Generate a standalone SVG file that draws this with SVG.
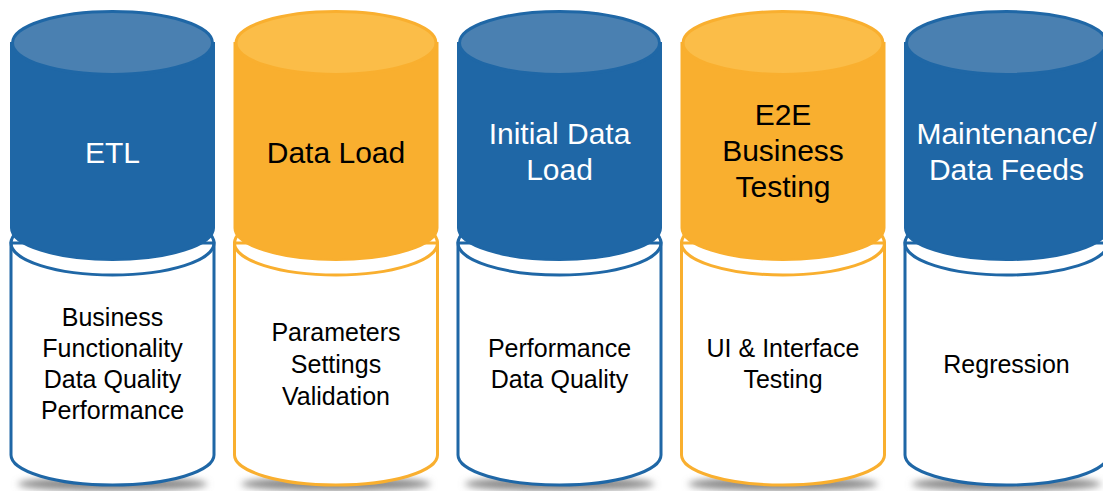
<svg xmlns="http://www.w3.org/2000/svg" width="1103" height="491" viewBox="0 0 1103 491">
<defs>
<filter id="blur" x="-20%" y="-100%" width="140%" height="300%"><feGaussianBlur stdDeviation="3.5"/></filter>
<style>
.shadow{fill:#8a8a8a;filter:url(#blur)}
.low{fill:#fff;stroke-width:3}
.lowtop{fill:none;stroke-width:3}
.b .low,.b .lowtop{stroke:#1F67A6}
.o .low,.o .lowtop{stroke:#F9AF2F}
.b .body{fill:#1F67A6;stroke:#1F67A6;stroke-width:2}
.o .body{fill:#F9AF2F;stroke:#F9AF2F;stroke-width:2}
.b .top{fill:#4A80B1;stroke:#1F67A6;stroke-width:3}
.o .top{fill:#FBBD48;stroke:#F9AF2F;stroke-width:3}
.title{font-family:"Liberation Sans",Arial,sans-serif;font-size:30px;text-anchor:middle}
.b .title{fill:#fff}
.o .title{fill:#000}
.sub{font-family:"Liberation Sans",Arial,sans-serif;font-size:25px;text-anchor:middle;fill:#000}
</style>
</defs>
<g id="connectors"/>
<g id="etl" class="b">
<ellipse class="shadow" cx="112.5" cy="484" rx="95" ry="7"/>
<path class="low" d="M11,243 L11,455 A101.5,30 0 0 0 214,455 L214,243 Z"/>
<ellipse class="lowtop" cx="112.5" cy="243" rx="101.5" ry="32"/>
<path class="body" d="M11,43 L11,228 A101.5,32 0 0 0 214,228 L214,43 Z"/>
<ellipse class="top" cx="112.5" cy="43" rx="100" ry="31.5"/>
<text class="title" x="112.5" y="163">ETL</text>
<text class="sub" x="112.5" y="326">Business</text>
<text class="sub" x="112.5" y="357">Functionality</text>
<text class="sub" x="112.5" y="388">Data Quality</text>
<text class="sub" x="112.5" y="419">Performance</text>
</g>
<g id="dataload" class="o">
<ellipse class="shadow" cx="336" cy="484" rx="95" ry="7"/>
<path class="low" d="M234.5,243 L234.5,455 A101.5,30 0 0 0 437.5,455 L437.5,243 Z"/>
<ellipse class="lowtop" cx="336" cy="243" rx="101.5" ry="32"/>
<path class="body" d="M234.5,43 L234.5,228 A101.5,32 0 0 0 437.5,228 L437.5,43 Z"/>
<ellipse class="top" cx="336" cy="43" rx="100" ry="31.5"/>
<text class="title" x="336" y="163">Data Load</text>
<text class="sub" x="336" y="341">Parameters</text>
<text class="sub" x="336" y="373">Settings</text>
<text class="sub" x="336" y="405">Validation</text>
</g>
<g id="initialload" class="b">
<ellipse class="shadow" cx="559.5" cy="484" rx="95" ry="7"/>
<path class="low" d="M458,243 L458,455 A101.5,30 0 0 0 661,455 L661,243 Z"/>
<ellipse class="lowtop" cx="559.5" cy="243" rx="101.5" ry="32"/>
<path class="body" d="M458,43 L458,228 A101.5,32 0 0 0 661,228 L661,43 Z"/>
<ellipse class="top" cx="559.5" cy="43" rx="100" ry="31.5"/>
<text class="title" x="559.5" y="144">Initial Data</text>
<text class="title" x="559.5" y="180">Load</text>
<text class="sub" x="559.5" y="357">Performance</text>
<text class="sub" x="559.5" y="388">Data Quality</text>
</g>
<g id="e2e" class="o">
<ellipse class="shadow" cx="783" cy="484" rx="95" ry="7"/>
<path class="low" d="M681.5,243 L681.5,455 A101.5,30 0 0 0 884.5,455 L884.5,243 Z"/>
<ellipse class="lowtop" cx="783" cy="243" rx="101.5" ry="32"/>
<path class="body" d="M681.5,43 L681.5,228 A101.5,32 0 0 0 884.5,228 L884.5,43 Z"/>
<ellipse class="top" cx="783" cy="43" rx="100" ry="31.5"/>
<text class="title" x="783" y="125">E2E</text>
<text class="title" x="783" y="161">Business</text>
<text class="title" x="783" y="197">Testing</text>
<text class="sub" x="783" y="357">UI &amp; Interface</text>
<text class="sub" x="783" y="388">Testing</text>
</g>
<g id="maintenance" class="b">
<ellipse class="shadow" cx="1006.5" cy="484" rx="95" ry="7"/>
<path class="low" d="M905,243 L905,455 A101.5,30 0 0 0 1108,455 L1108,243 Z"/>
<ellipse class="lowtop" cx="1006.5" cy="243" rx="101.5" ry="32"/>
<path class="body" d="M905,43 L905,228 A101.5,32 0 0 0 1108,228 L1108,43 Z"/>
<ellipse class="top" cx="1006.5" cy="43" rx="100" ry="31.5"/>
<text class="title" x="1006.5" y="144">Maintenance/</text>
<text class="title" x="1006.5" y="180">Data Feeds</text>
<text class="sub" x="1006.5" y="373">Regression</text>
</g>
</svg>
